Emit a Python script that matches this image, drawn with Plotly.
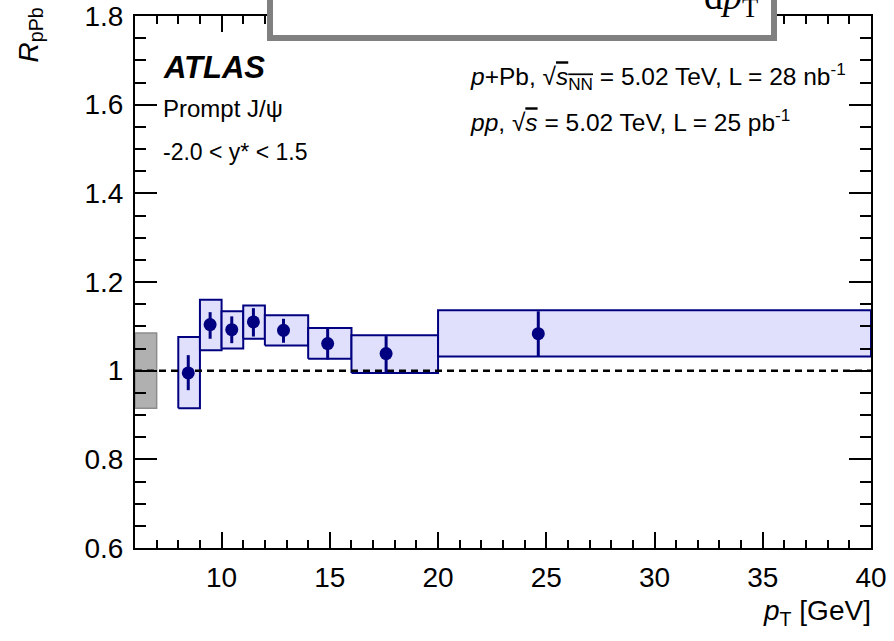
import plotly.graph_objects as go

# Nuclear modification factor of prompt J/psi vs pT
pt_lo = [8, 9, 10, 11, 12, 14, 16, 20]
pt_hi = [9, 10, 11, 12, 14, 16, 20, 40]
pt_mean = [8.46, 9.47, 10.47, 11.47, 12.86, 14.9, 17.6, 24.63]
r_ppb = [0.995, 1.104, 1.0925, 1.110, 1.091, 1.061, 1.0385, 1.0835]
stat_up = [0.040, 0.028, 0.030, 0.031, 0.026, 0.037, 0.0395, 0.0505]
stat_down = [0.039, 0.032, 0.0305, 0.033, 0.028, 0.036, 0.0415, 0.0515]
syst_hi = [1.076, 1.160, 1.134, 1.147, 1.125, 1.096, 1.080, 1.136]
syst_lo = [0.915, 1.046, 1.050, 1.072, 1.057, 1.027, 0.995, 1.032]

# global normalisation uncertainty band around unity
norm_pt = [6.0, 7.0]
norm_lo, norm_hi = 0.915, 1.085

x_range = [6, 40]
y_range = [0.6, 1.8]

NAVY = "#000080"
FILL = "rgb(224,224,252)"
FONT = "Liberation Sans, Arial, Helvetica, sans-serif"

# plot-frame geometry in pixels (for placing labels)
W, H = 894, 641
L, R, T, B = 135, 23, 16, 93
PW, PH = W - L - R, H - T - B


def px(xp):
    return (xp - L) / PW


def py(yp):
    return (H - B - yp) / PH


fig = go.Figure()

# normalisation box
fig.add_trace(go.Scatter(
    x=[norm_pt[0], norm_pt[1], norm_pt[1], norm_pt[0], norm_pt[0]],
    y=[norm_lo, norm_lo, norm_hi, norm_hi, norm_lo],
    mode="lines", fill="toself", fillcolor="rgb(176,176,176)",
    line=dict(color="rgb(140,140,140)", width=1.5),
    hoverinfo="skip", showlegend=False))

# systematic-uncertainty boxes
for a, b, lo, hi in zip(pt_lo, pt_hi, syst_lo, syst_hi):
    fig.add_trace(go.Scatter(
        x=[a, b, b, a, a], y=[lo, lo, hi, hi, lo],
        mode="lines", fill="toself", fillcolor=FILL,
        line=dict(color=NAVY, width=2),
        hoverinfo="skip", showlegend=False))

# unity reference line
fig.add_trace(go.Scatter(
    x=x_range, y=[1, 1], mode="lines",
    line=dict(color="black", width=2.5, dash="7px,5px"),
    hoverinfo="skip", showlegend=False))

# data points with statistical errors
fig.add_trace(go.Scatter(
    x=pt_mean, y=r_ppb, mode="markers",
    marker=dict(color=NAVY, size=13, line=dict(width=0)),
    error_y=dict(type="data", symmetric=False, array=stat_up,
                 arrayminus=stat_down, color=NAVY, thickness=3, width=0),
    showlegend=False))

# invisible trace to activate the mirrored top/right axes
fig.add_trace(go.Scatter(x=x_range, y=y_range, xaxis="x2", yaxis="y2",
                         mode="markers", marker=dict(opacity=0),
                         hoverinfo="skip", showlegend=False))

tickfont = dict(family=FONT, size=28, color="black")

common_x = dict(range=x_range, showgrid=False, zeroline=False,
                automargin=False,
                showline=True, linecolor="black", linewidth=2,
                ticks="inside", ticklen=16, tickwidth=1.5, tickcolor="black",
                tick0=0, dtick=5,
                minor=dict(ticks="inside", ticklen=8, tickwidth=1.5,
                           tickcolor="black", dtick=1, tick0=0, showgrid=False))
common_y = dict(range=y_range, showgrid=False, zeroline=False,
                automargin=False,
                showline=True, linecolor="black", linewidth=2,
                ticks="inside", ticklen=22, tickwidth=1.5, tickcolor="black",
                tick0=0, dtick=0.2,
                minor=dict(ticks="inside", ticklen=11, tickwidth=1.5,
                           tickcolor="black", dtick=0.05, tick0=0,
                           showgrid=False))

fig.update_layout(
    width=W, height=H,
    margin=dict(l=L, r=R, t=T, b=B, autoexpand=False),
    paper_bgcolor="white", plot_bgcolor="white",
    font=dict(family=FONT, color="black"),
    xaxis=dict(**common_x, tickfont=tickfont, ticklabelstandoff=3),
    yaxis=dict(**common_y, tickfont=tickfont, ticklabelstandoff=4),
    xaxis2=dict(**common_x, overlaying="x", side="top",
                showticklabels=False, anchor="y"),
    yaxis2=dict(**common_y, overlaying="y", side="right",
                showticklabels=False, anchor="x"),
)

# framed box overlapping the top edge
fig.add_shape(type="rect", xref="paper", yref="paper",
              x0=px(270), x1=px(774), y0=py(38), y1=py(-30),
              fillcolor="white", line=dict(color="rgb(128,128,128)", width=6),
              layer="above")

OVL = "<span style='text-decoration:overline'>%s</span>"

ann = []
ann.append(dict(text="d<i>p</i><sub>T</sub>", x=px(760), y=py(25),
                xanchor="right", yanchor="bottom",
                font=dict(family="Liberation Serif, DejaVu Serif, serif",
                          size=38, color="black")))
ann.append(dict(text="<b><i>ATLAS</i></b>", x=px(161), y=py(67),
                xanchor="left", yanchor="middle",
                font=dict(size=31)))
ann.append(dict(text="Prompt J/ψ", x=px(161), y=py(108),
                xanchor="left", yanchor="middle", font=dict(size=24)))
ann.append(dict(text="-2.0 < y* < 1.5", x=px(161), y=py(152),
                xanchor="left", yanchor="middle", font=dict(size=23)))
ann.append(dict(text="<i>p</i>+Pb, √" + OVL % "<i>s</i><sub>NN</sub>"
                + " = 5.02 TeV, L = 28 nb<sup>-1</sup>",
                x=px(468), y=py(76), xanchor="left", yanchor="middle",
                font=dict(size=24.5)))
ann.append(dict(text="<i>pp</i>, √" + OVL % "<i>s</i>"
                + " = 5.02 TeV, L = 25 pb<sup>-1</sup>",
                x=px(468), y=py(120), xanchor="left", yanchor="middle",
                font=dict(size=24.5)))
ann.append(dict(text="<i>p</i><sub>T</sub> [GeV]", x=px(873), y=py(612),
                xanchor="right", yanchor="middle", font=dict(size=28)))
ann.append(dict(text="<i>R</i><sub>pPb</sub>", x=px(30), y=py(6),
                xanchor="center", yanchor="top", textangle=-90,
                font=dict(size=28)))

for a in ann:
    a.setdefault("xref", "paper")
    a.setdefault("yref", "paper")
    a.setdefault("showarrow", False)
    fig.add_annotation(**a)

fig.write_html("out.html")
